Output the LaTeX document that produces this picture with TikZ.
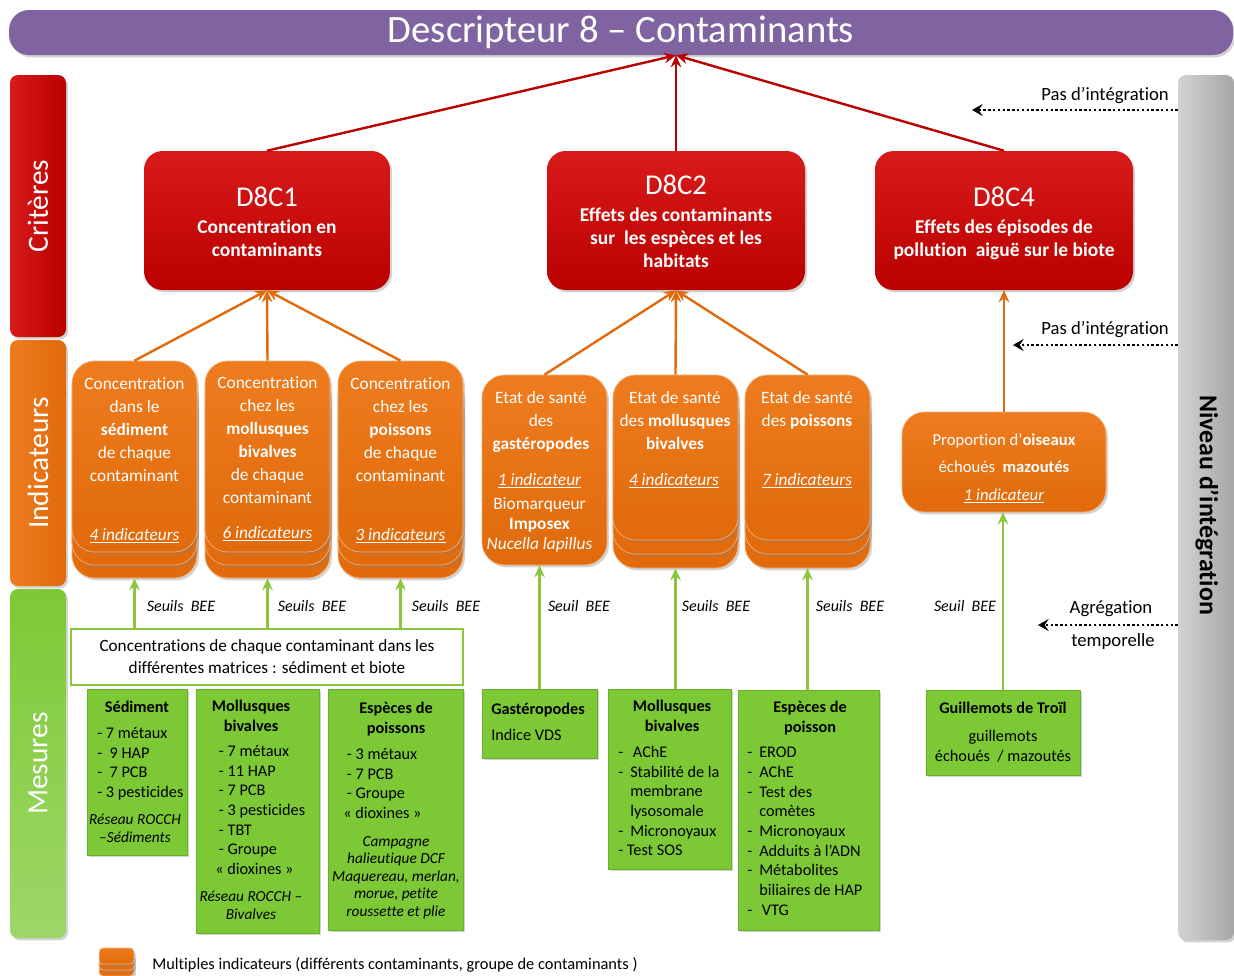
\documentclass[tikz,border=0pt]{standalone}
\usepackage{fontspec}
\setmainfont{Carlito}[Ligatures=NoCommon]
\usetikzlibrary{arrows.meta,shadows}
\definecolor{tpurple}{HTML}{8064A2}
\definecolor{cred}{HTML}{BA0000}
\definecolor{credtop}{HTML}{D81A1A}
\definecolor{corange}{HTML}{E06A0C}
\definecolor{corangetop}{HTML}{EE7C1E}
\definecolor{cgreen}{HTML}{7DC935}
\definecolor{cgreendk}{HTML}{68B02A}
\definecolor{cgreenarr}{HTML}{8CC63F}
\definecolor{cgray}{HTML}{C0C0C0}
\definecolor{cgraydk}{HTML}{A6A6A6}
\newcommand\fsz[2]{\fontsize{#1pt}{#2pt}\selectfont}
\newcommand\li{\makebox[9pt][l]{-}}
\newcommand\lc{\hspace*{9pt}}
\begin{document}
\begin{tikzpicture}[x=0.75pt,y=-0.75pt,
  shad/.style={drop shadow={opacity=0.35,shadow xshift=1.5pt,shadow yshift=-1.8pt}},
  critbox/.style={shad,rounded corners=14pt,top color=credtop,bottom color=cred,inner sep=0pt},
  crittxt/.style={text=white,align=center,inner sep=0pt,anchor=north,font=\fsz{14.6}{17.25}\bfseries},
  indbox/.style={shad,rounded corners=17pt,top color=corangetop,bottom color=corange,draw=corangetop!60!white,line width=0.5pt,inner sep=0pt},
  grbox/.style={shad,fill=cgreen,draw=cgreendk,line width=0.6pt,inner sep=0pt},
  sidebar/.style={rounded corners=6pt,inner sep=0pt,minimum width=42pt},
  redarr/.style={draw=cred,line width=1.8pt,-{Stealth[length=9pt,width=8pt,inset=3pt]}},
  orarr/.style={draw=corange,line width=1.8pt,-{Stealth[length=9pt,width=8pt,inset=3pt]}},
  grarr/.style={draw=cgreenarr,line width=1.8pt,-{Stealth[length=9pt,width=8pt,inset=3pt]}},
  dotarr/.style={draw=black,line width=2.2pt,dash pattern=on 1.8pt off 1.8pt,-{Stealth[length=8pt,width=9pt,inset=3pt]}},
  indtxt/.style={text=white,align=center,inner sep=0pt,anchor=north,font=\fsz{13}{17.25}},
  indnum/.style={text=white,inner sep=0pt,font=\fsz{13}{16}\itshape},
  grhead/.style={align=center,inner sep=0pt,anchor=north,font=\fsz{12.2}{14.5}\bfseries},
  grlist/.style={align=left,inner sep=0pt,anchor=north west,font=\fsz{12.2}{14.75}},
  grital/.style={align=center,inner sep=0pt,anchor=north,font=\fsz{11.5}{13.3}\itshape},
  seuil/.style={inner sep=0pt,font=\fsz{12}{14}\itshape},
  sidetxt/.style={text=white,inner sep=0pt,rotate=90,font=\fsz{22}{24}},
  rtxt/.style={inner sep=0pt,font=\fsz{14}{16}}
]
\useasboundingbox (0,0) rectangle (1234,975);

% ---- title bar
\node[shad,rounded corners=15pt,fill=tpurple,minimum width=918pt,minimum height=33.75pt,inner sep=0pt,text=white,font=\fsz{29}{32}] (title) at (621,32.5) {Descripteur 8 – Contaminants};

% ---- side bars
\node[sidebar,shad,left color=credtop,right color=cred,minimum height=196.5pt] (crit) at (38,206) {};
\node[sidetxt] (critL) at (crit) {Critères};
\node[sidebar,shad,left color=corangetop,right color=corange,minimum height=184.5pt] (indi) at (38,463) {};
\node[sidetxt] (indiL) at (indi) {Indicateurs};
\node[sidebar,shad,top color=cgreen,bottom color=cgreen!75!white,minimum height=261.75pt] (mes) at (38,763.5) {};
\node[sidetxt] (mesL) at (mes) {Mesures};
\node[sidebar,shad,left color=cgray!70!white,right color=cgraydk,minimum height=648.75pt] (bar) at (1206,507.5) {};
\node[inner sep=0pt,rotate=-90,font=\fsz{19.4}{22}\bfseries] (barL) at (1207,505) {Niveau d’intégration};

% ---- criteria
\node[critbox,minimum width=184.5pt,minimum height=104.25pt] (c1) at (267,220.5) {};
\node[critbox,minimum width=193.5pt,minimum height=104.25pt] (c2) at (676,220.5) {};
\node[critbox,minimum width=193.5pt,minimum height=104.25pt] (c4) at (1004,220.5) {};
\node[text=white,inner sep=0pt,font=\fsz{21.5}{24}] (c1h) at (267,197) {D8C1};
\node[crittxt] (c1t) at (267,220) {Concentration en\\contaminants};
\node[text=white,inner sep=0pt,font=\fsz{21.5}{24}] (c2h) at (676,185) {D8C2};
\node[crittxt] (c2t) at (676,208) {Effets des contaminants\\sur\ \ les espèces et les\\habitats};
\node[text=white,inner sep=0pt,font=\fsz{21.5}{24}] (c4h) at (1004,197) {D8C4};
\node[crittxt] (c4t) at (1004,220) {Effets des épisodes de\\pollution\ \ aiguë sur le biote};

% ---- indicators (stacked)
\foreach \n/\x in {i1/134.5,i2/267.5,i3/400.5}{
  \node[indbox,minimum width=93.75pt,minimum height=143.25pt] (\n c) at (\x,482.5) {};
  \node[indbox,minimum width=93.75pt,minimum height=143.25pt] (\n b) at (\x,469.5) {};
  \node[indbox,minimum width=93.75pt,minimum height=143.25pt] (\n) at (\x,456.5) {};
}
\node[indbox,minimum width=93.75pt,minimum height=142.5pt] (i4) at (544.5,470) {};
\foreach \n/\x in {i5/675.5,i6/807.5}{
  \node[indbox,minimum width=93.75pt,minimum height=123.75pt] (\n c) at (\x,485.5) {};
  \node[indbox,minimum width=93.75pt,minimum height=123.75pt] (\n b) at (\x,471.5) {};
  \node[indbox,minimum width=93.75pt,minimum height=123.75pt] (\n) at (\x,457.5) {};
}
\node[indbox,minimum width=153pt,minimum height=75pt] (i7) at (1004,462) {};

\node[indtxt] (i1t) at (134.5,377) {Concentration\\dans le\\\textbf{sédiment}\\de chaque\\contaminant};
\node[indnum] (i1n) at (134.5,536) {\underline{4 indicateurs}};
\node[indtxt] (i2t) at (267.5,376) {Concentration\\chez les\\\textbf{mollusques}\\\textbf{bivalves}\\de chaque\\contaminant};
\node[indnum] (i2n) at (267.5,534) {\underline{6 indicateurs}};
\node[indtxt] (i3t) at (400.5,377) {Concentration\\chez les\\\textbf{poissons}\\de chaque\\contaminant};
\node[indnum] (i3n) at (400.5,536) {\underline{3 indicateurs}};
\node[indtxt] (i4t) at (541,391) {Etat de santé\\des\\\textbf{gastéropodes}};
\node[indnum] (i4n) at (539.5,481) {\underline{1 indicateur}};
\node[indtxt,font=\fsz{13}{15}] (i4b) at (539.5,497) {Biomarqueur\\\textbf{Imposex}\\\textit{Nucella lapillus}};
\node[indtxt] (i5t) at (675,391) {Etat de santé\\des \textbf{mollusques}\\\textbf{bivalves}};
\node[indnum] (i5n) at (674,481) {\underline{4 indicateurs}};
\node[indtxt] (i6t) at (807,391) {Etat de santé\\des \textbf{poissons}};
\node[indnum] (i6n) at (807,481) {\underline{7 indicateurs}};
\node[indtxt,font=\fsz{12.5}{20.25}] (i7t) at (1004,433) {Proportion d’\textbf{oiseaux}\\échoués\ \ \textbf{mazoutés}};
\node[indnum,font=\fsz{12.5}{15}\itshape] (i7n) at (1004,496) {\underline{1 indicateur}};

% ---- measures
\node[draw=cgreenarr,line width=2pt,fill=white,minimum width=294pt,minimum height=42pt,inner sep=0pt,align=center,font=\fsz{12.9}{16.5}] (conc) at (267,657)
  {Concentrations de chaque contaminant dans les\\différentes matrices : sédiment et biote};

\node[grbox,minimum width=75pt,minimum height=124.5pt] (g1) at (137,772) {};
\node[grbox,minimum width=92.25pt,minimum height=183pt] (g2) at (257.5,811) {};
\node[grbox,minimum width=101.25pt,minimum height=180.75pt] (g3) at (395.5,809.5) {};
\node[grbox,minimum width=86.25pt,minimum height=51.75pt] (g4) at (539.5,723.5) {};
\node[grbox,minimum width=92.25pt,minimum height=135pt] (g5) at (669.5,779) {};
\node[grbox,minimum width=105.75pt,minimum height=180pt] (g6) at (808.5,810) {};
\node[grbox,minimum width=115.5pt,minimum height=63.75pt] (g7) at (1003,732.5) {};

\node[grhead] (g1h) at (137,701) {Sédiment};
\node[grlist] (g1l) at (97,727) {- 7 métaux\\-\ \ 9 HAP\\-\ \ 7 PCB\\- 3 pesticides};
\node[grital] (g1r) at (135,814) {Réseau ROCCH\\–Sédiments};

\node[grhead] (g2h) at (251,700) {Mollusques\\bivalves};
\node[grlist] (g2l) at (215,745) {\ - 7 métaux\\\ - 11 HAP\\\ - 7 PCB\\\ - 3 pesticides\\\ - TBT\\\ - Groupe\\« dioxines »};
\node[grital] (g2r) at (251,891) {Réseau ROCCH –\\Bivalves};

\node[grhead] (g3h) at (396,702) {Espèces de\\poissons};
\node[grlist] (g3l) at (343,748) {\ - 3 métaux\\\ - 7 PCB\\\ - Groupe\\« dioxines »};
\node[grital,font=\fsz{11.5}{13.1}\itshape] (g3r) at (396,836) {Campagne\\halieutique DCF\\Maquereau, merlan,\\morue, petite\\roussette et plie};

\node[grhead,anchor=north west] (g4h) at (491,703) {Gastéropodes};
\node[grlist] (g4l) at (491,729) {Indice VDS};

\node[grhead] (g5h) at (672,700) {Mollusques\\bivalves};
\node[grlist] (g5l) at (618,746) {\li\,AChE\\\li Stabilité de la\\\lc membrane\\\lc lysosomale\\\li Micronoyaux\\- Test SOS};

\node[grhead] (g6h) at (810,701) {Espèces de\\poisson};
\node[grlist] (g6l) at (747,747) {\li EROD\\\li AChE\\\li Test des\\\lc comètes\\\li Micronoyaux\\\li Adduits à l’ADN\\\li Métabolites\\\lc biliaires de HAP\\\li\,VTG};

\node[grhead] (g7h) at (1003,702) {Guillemots de Troïl};
\node[grlist,anchor=north,align=center] (g7l) at (1003,730) {guillemots\\échoués\ \ / mazoutés};

% ---- connectors
\draw[redarr] (c1.north) -- (title.south -| c2.north);
\draw[redarr] (c2.north) -- (title.south -| c2.north);
\draw[redarr] (c4.north) -- (title.south -| c2.north);

\draw[orarr] (i1.north) -- (c1.south);
\draw[orarr] (i2.north) -- (c1.south);
\draw[orarr] (i3.north) -- (c1.south);
\draw[orarr] (i4.north) -- (c2.south);
\draw[orarr] (i5.north) -- (c2.south);
\draw[orarr] (i6.north) -- (c2.south);
\draw[orarr] (i7.north) -- (c4.south);

\draw[grarr] (conc.north -| i1c.south) -- (i1c.south);
\draw[grarr] (conc.north -| i2c.south) -- (i2c.south);
\draw[grarr] (conc.north -| i3c.south) -- (i3c.south);
\draw[grarr] (g4.north) -- (g4.north |- i4.south);
\draw[grarr] (g5.north -| i5c.south) -- (i5c.south);
\draw[grarr] (g6.north -| i6c.south) -- (i6c.south);
\draw[grarr] (g7.north) -- (g7.north |- i7.south);

\node[seuil] (s1) at (181,606) {Seuils\ \ BEE};
\node[seuil] (s2) at (312,606) {Seuils\ \ BEE};
\node[seuil] (s3) at (446,606) {Seuils\ \ BEE};
\node[seuil] (s4) at (579,606) {Seuil\ \ BEE};
\node[seuil] (s5) at (716,606) {Seuils\ \ BEE};
\node[seuil] (s6) at (850,606) {Seuils\ \ BEE};
\node[seuil] (s7) at (965,606) {Seuil\ \ BEE};

% ---- integration level arrows
\coordinate (d1) at (972,110);
\coordinate (d2) at (1013,345);
\coordinate (d3) at (1038,625);
\draw[dotarr] (bar.west |- d1) -- (d1);
\draw[dotarr] (bar.west |- d2) -- (d2);
\draw[dotarr] (bar.west |- d3) -- (d3);
\node[rtxt] (t1) at (1105,96) {Pas d’intégration};
\node[rtxt] (t2) at (1105,330) {Pas d’intégration};
\node[rtxt] (t3) at (1111,609) {Agrégation};
\node[rtxt] (t4) at (1113,642) {temporelle};

% ---- legend
\node[indbox,rounded corners=3pt,minimum width=26pt,minimum height=12pt] (lg3) at (116.5,968) {};
\node[indbox,rounded corners=3pt,minimum width=26pt,minimum height=12pt] (lg2) at (116.5,962) {};
\node[indbox,rounded corners=3pt,minimum width=26pt,minimum height=12pt] (lg1) at (116.5,956) {};
\node[inner sep=0pt,anchor=west,font=\fsz{12.3}{14}] (lgt) at (152,965) {Multiples indicateurs (différents contaminants, groupe de contaminants )};
\end{tikzpicture}
\end{document}
